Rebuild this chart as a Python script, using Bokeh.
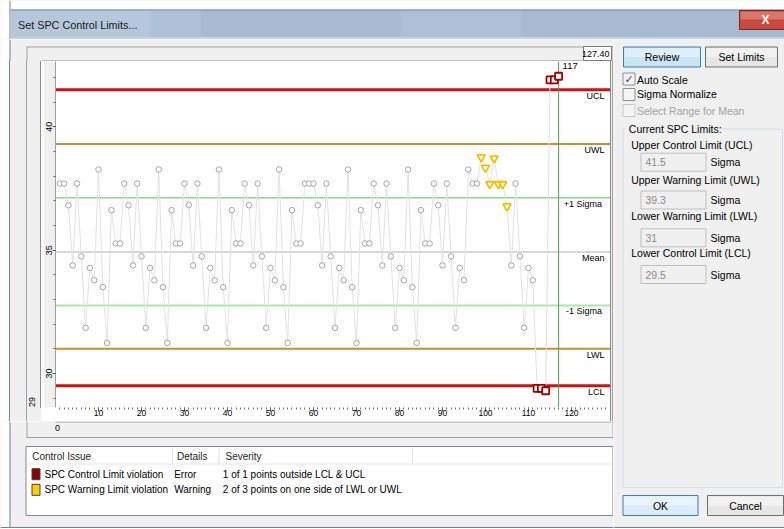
import math
from bokeh.plotting import figure
from bokeh.layouts import column, row
from bokeh.models import Range1d, FixedTicker, Label, Span, ColumnDataSource, Div
from bokeh.core.properties import value
from bokeh.embed import file_html
from bokeh.resources import INLINE

# ---------------- data ----------------
sample_index = list(range(1, 118))
measurements = [
    37.70, 37.70, 36.82, 34.38, 37.70, 34.75, 31.85, 34.28, 33.78, 38.27, 33.50, 31.24, 36.62, 35.27,
    35.27, 37.70, 36.82, 34.38, 37.70, 34.75, 31.85, 34.28, 33.78, 38.27, 33.50, 31.24, 36.62, 35.27,
    35.27, 37.70, 36.82, 34.38, 37.70, 34.75, 31.85, 34.28, 33.78, 38.27, 33.50, 31.24, 36.62, 35.27,
    35.27, 37.70, 36.82, 34.38, 37.70, 34.75, 31.85, 34.28, 33.78, 38.27, 33.50, 31.24, 36.62, 35.27,
    35.27, 37.70, 37.70, 37.70, 36.82, 34.38, 37.70, 34.75, 31.85, 34.28, 33.78, 38.27, 33.50, 31.24,
    36.62, 35.27, 35.27, 37.70, 36.82, 34.38, 37.70, 34.75, 31.85, 34.28, 33.78, 38.27, 33.50, 31.24,
    36.62, 35.27, 35.27, 37.70, 36.82, 34.38, 37.70, 34.75, 31.85, 34.28, 33.78, 38.27, 37.70, 37.70,
    38.77, 38.34, 37.68, 38.72, 37.68, 37.68, 36.78,
    34.38, 37.70, 34.75, 31.85, 34.28, 33.78,
    29.40, 29.40, 29.30, 41.90, 41.90, 42.05,
]
warning_index = [99, 100, 101, 102, 103, 104, 105]
control_index = [112, 113, 114, 115, 116, 117]

limit_names = ["UCL", "UWL", "+1  Sigma", "Mean", "-1  Sigma", "LWL", "LCL"]
limit_values = [41.5, 39.3, 37.12, 34.93, 32.76, 31.0, 29.5]
cursor_index = 117

x_ticks = [10, 20, 30, 40, 50, 60, 70, 80, 90, 100, 110, 120]
x_minor = list(range(1, 130))
y_ticks = [30, 35, 40]
y_minor = list(range(29, 43))
x_range_label = "127.40"
x_start_label = "0"
y_start_label = "29"

issue_names = ["SPC Control Limit violation", "SPC Warning Limit violation"]
issue_details = ["Error", "Warning"]
issue_severity = ["1 of 1 points outside LCL & UCL", "2 of 3 points on one side of LWL or UWL"]
table_headers = ["Control Issue", "Details", "Severity"]

panel_labels = ["Upper Control Limit (UCL)", "Upper Warning Limit (UWL)",
                "Lower Warning Limit (LWL)", "Lower Control Limit (LCL)"]
panel_values = ["41.5", "39.3", "31", "29.5"]

FONT = "Liberation Sans"
BG = "#f0f0f0"
FRAME = "#6f8098"


# ---------------- helpers for the dialog pieces (pixel-space figures) ----------------
def deco(X0, X1, Y0, Y1, bg=BG):
    f = figure(width=X1 - X0, height=Y1 - Y0, x_range=Range1d(X0, X1), y_range=Range1d(Y1, Y0),
               output_backend="svg", toolbar_location=None, title=None,
               x_axis_location=None, y_axis_location=None,
               min_border=0, min_border_left=0, min_border_right=0, min_border_top=0, min_border_bottom=0)
    f.grid.visible = False
    f.outline_line_color = None
    f.background_fill_color = bg
    f.border_fill_color = bg
    return f


def box(f, X0, Y0, X1, Y1, fill=None, line=None, lw=1):
    f.quad(left=[X0], right=[X1], top=[Y0], bottom=[Y1], fill_color=fill,
           line_color=line, line_width=lw)


def t(f, X, Y, s, size="10px", color="#000000", align="left", font=FONT, style="normal", angle=0.0):
    f.text(x=[X], y=[Y], text=[s], text_font=value(font), text_font_size=value(size),
           text_color=color, text_align=align, text_baseline="middle",
           text_font_style=style, angle=angle)


def window_edge(f, Y0, Y1):
    box(f, 0, Y0, 9, Y1, fill="white")
    box(f, 9, Y0, 10, Y1, fill=FRAME)


def strip_div(width, height, parts, extra=""):
    inner = "".join(
        f'<div style="position:absolute;left:{l}px;top:{tp}px;width:{w}px;height:{h}px;background:{c};"></div>'
        for (l, tp, w, h, c) in parts)
    html = (f'<div style="position:relative;width:{width}px;height:{height}px;overflow:hidden;'
            f'background:{BG};">{inner}{extra}</div>')
    return Div(text=html, width=width, height=height, margin=(0, 0, 0, 0))


# ---------------- title bar ----------------
T = deco(0, 784, 0, 39)
box(T, 0, 0, 784, 9, fill="white")
window_edge(T, 0, 39)
box(T, 10, 9, 784, 39, fill="#a7bad2")
box(T, 10, 10, 200, 37, fill="#afc1d7")
box(T, 10, 10, 150, 37, fill="#b7c7db")
box(T, 400, 10, 520, 37, fill="#acbfd5")
box(T, 10, 9, 784, 10, fill="#7b8fa8")
box(T, 10, 36.5, 784, 39, fill="#c6d3e3")
t(T, 17.5, 24, "Set SPC Control Limits...", size="10.8px", color="#1a1a1a")
box(T, 739, 10, 790, 29, fill="#c8493d", line="#7d2b22")
box(T, 740, 11, 790, 19, fill="#d8776b")
t(T, 765, 19.5, "X", size="12px", color="white", align="center", style="bold")

# ---------------- area above the chart frame ----------------
A = deco(0, 613, 39, 61)
window_edge(A, 39, 61)
box(A, 26, 46, 612.5, 47, fill="#a0a0a0")
box(A, 26, 46, 27, 61, fill="#a0a0a0")
box(A, 612, 46, 613, 61, fill="#a0a0a0")
box(A, 41, 60, 610, 61, fill="#8c8c8c")
box(A, 583, 46, 611, 60, fill="white", line="#7a7a7a")
t(A, 609, 53.5, x_range_label, size="9px", align="right")

# ---------------- left of chart (HTML strip) ----------------
label29 = (f'<div style="position:absolute;left:31.7px;top:341px;transform:translate(-50%,-50%) rotate(-90deg);'
           f'font-family:\'{FONT}\';font-size:9px;line-height:1;color:#000;white-space:nowrap;">{y_start_label}</div>')
L = strip_div(41, 360, [(0, 0, 9, 360, "#ffffff"), (9, 0, 1, 360, FRAME), (26, 0, 1, 360, "#a0a0a0"),
                        (40, 0, 1, 347, "#8c8c8c")], extra=label29)

# ---------------- right of chart (HTML strip) ----------------
Rr = strip_div(3, 360, [(0, 0, 1, 360, "#8c8c8c"), (2, 0, 1, 360, "#a0a0a0")])

# ---------------- below chart: table ----------------
B = deco(0, 613, 421, 529)
window_edge(B, 421, 529)
box(B, 0, 526.5, 613, 527.5, fill=FRAME)
box(B, 0, 527.5, 613, 529, fill="white")
box(B, 55, 421, 611, 422, fill="#a0a0a0")
box(B, 26, 421, 27, 437, fill="#a0a0a0")
box(B, 612, 421, 613, 437, fill="#a0a0a0")
box(B, 26, 436.5, 613, 437.5, fill="#a0a0a0")
t(B, 57, 427.5, x_start_label, size="9px", align="center")
box(B, 25.5, 446, 612.5, 515, fill="white", line="#828790")
box(B, 26, 463, 612, 464, fill="#e5e5e5")
for Xs in (171.5, 218, 411.5):
    box(B, Xs, 447, Xs + 1, 463, fill="#e3e3e3")
for Xh, h in zip((31.7, 176.5, 225), table_headers):
    t(B, Xh, 455.5, h, size="10px", color="#1e1e1e")
row_y = [473.7, 489.3]
sw_fill = ["#8b0000", "#ffcc00"]
for i in range(2):
    box(B, 31.5, row_y[i] - 5.5, 39.5, row_y[i] + 5.5, fill=sw_fill[i], line="#404040")
    t(B, 44, row_y[i], issue_names[i], size="10px")
    t(B, 173.7, row_y[i], issue_details[i], size="10px")
    t(B, 222.3, row_y[i], issue_severity[i], size="10px")

# ---------------- right panel ----------------
R = deco(613, 784, 39, 529)
box(R, 613, 526.5, 784, 527.5, fill=FRAME)
box(R, 613, 527.5, 784, 529, fill="white")
box(R, 623, 46.5, 700, 66.5, fill="#c9e6f7", line="#3c7fb1")
box(R, 624, 47.5, 699, 56.5, fill="#dff0fa")
t(R, 661.5, 56.7, "Review", size="10.5px", align="center")
box(R, 705, 46.5, 777, 66.5, fill="#e6e6e6", line="#707070")
box(R, 706, 47.5, 776, 56.5, fill="#f2f2f2")
t(R, 741, 56.7, "Set Limits", size="10.5px", align="center")

box(R, 622.5, 72.5, 634.5, 84.5, fill="#f4f4f4", line="#8e8f8f")
t(R, 628.5, 78.5, "\u2713", size="11px", color="#24489a", align="center", font="DejaVu Sans", style="bold")
t(R, 636.5, 79, "Auto Scale", size="10.5px")
box(R, 622.5, 88, 634.5, 100, fill="#f4f4f4", line="#8e8f8f")
t(R, 636.5, 93.5, "Sigma Normalize", size="10.5px")
box(R, 622.5, 104, 634.5, 116, fill="#f4f4f4", line="#cacaca")
t(R, 636.5, 110, "Select Range for Mean", size="10.5px", color="#a3a3a3")

box(R, 622.5, 128.5, 782, 487, line="#d5dfe5")
box(R, 626, 122, 717, 135, fill=BG)
t(R, 628.3, 128.3, "Current SPC Limits:", size="10.5px")
lab_y = [144, 179.3, 215.7, 252.7]
box_y = [161.7, 199.5, 237.3, 274]
for i in range(4):
    t(R, 630.7, lab_y[i], panel_labels[i], size="10.5px")
    box(R, 640.5, box_y[i] - 9, 705.5, box_y[i] + 9, fill="#f0f0f0", line="#bfbfbf")
    t(R, 645, box_y[i], panel_values[i], size="10.5px", color="#8a8a8a")
    t(R, 710, box_y[i], "Sigma", size="10.5px")

box(R, 622.5, 495, 697.5, 515, fill="#dcecfa", line="#3c7fb1")
box(R, 623.5, 496, 696.5, 505, fill="#eaf4fc")
t(R, 660, 505, "OK", size="10.5px", align="center")
box(R, 707, 495, 783, 515, fill="#e6e6e6", line="#707070")
box(R, 708, 496, 782, 505, fill="#f2f2f2")
t(R, 745, 505, "Cancel", size="10.5px", align="center")

# ---------------- the chart ----------------
C = figure(width=569, height=360, x_range=Range1d(0, 129.07), y_range=Range1d(28.622, 42.647),
           output_backend="svg", toolbar_location=None, title=None,
           min_border_left=14, min_border_right=0, min_border_top=0, min_border_bottom=14)
C.background_fill_color = "white"
C.border_fill_color = "white"
C.outline_line_color = None
C.xgrid.visible = False
C.ygrid.visible = False

ya = C.yaxis[0]
ya.ticker = FixedTicker(ticks=y_ticks, minor_ticks=y_minor)
ya.major_label_orientation = "vertical"
ya.major_tick_out = 3
ya.major_tick_in = 0
ya.minor_tick_out = 2
ya.minor_tick_in = 0
ya.axis_line_color = "#a0a0a0"
ya.major_tick_line_color = "#404040"
ya.minor_tick_line_color = "#606060"
ya.major_label_standoff = 0
ya.major_label_text_font = FONT
ya.major_label_text_font_size = "9px"
ya.major_label_text_color = "black"
try:
    ya.background_fill_color = BG
except Exception:
    pass

xa = C.xaxis[0]
xa.ticker = FixedTicker(ticks=x_ticks, minor_ticks=x_minor)
xa.major_tick_out = 4
xa.major_tick_in = 0
xa.minor_tick_out = 2
xa.minor_tick_in = 0
xa.axis_line_color = None
xa.major_tick_line_color = "#404040"
xa.minor_tick_line_color = "#707070"
xa.major_label_standoff = -2
xa.major_label_text_font = FONT
xa.major_label_text_font_size = "8.5px"
xa.major_label_text_color = "black"

line_colors = ["#c81414", "#c8902c", "#86d886", "#cacaca", "#a6eaa6", "#c8902c", "#c81414"]
line_widths = [3, 2, 1.5, 1.5, 2, 2, 3]
for name, val, c, w in zip(limit_names, limit_values, line_colors, line_widths):
    C.add_layout(Span(location=val, dimension="width", line_color=c, line_width=w, level="underlay"))
    C.add_layout(Label(x=549, x_units="screen", y=val, y_offset=-6, text=name, text_font=FONT,
                       text_font_size="9px", text_align="right", text_baseline="middle",
                       text_color="black"))

C.add_layout(Span(location=cursor_index, dimension="height", line_color="#3cb043", line_width=1,
                  level="underlay"))
C.add_layout(Label(x=cursor_index, y=42.45, x_offset=4, text=str(cursor_index),
                   text_font=FONT, text_font_size="9.5px", text_baseline="middle", text_color="black"))

C.line(sample_index, measurements, line_color="#e2e2e2", line_width=1)

normal = [(i, v) for i, v in zip(sample_index, measurements) if i not in warning_index and i not in control_index]
warn = [(i, v) for i, v in zip(sample_index, measurements) if i in warning_index]
ctrl = [(i, v) for i, v in zip(sample_index, measurements) if i in control_index]

src_n = ColumnDataSource(dict(x=[a for a, _ in normal], y=[b for _, b in normal]))
src_w = ColumnDataSource(dict(x=[a for a, _ in warn], y=[b for _, b in warn]))
src_c = ColumnDataSource(dict(x=[a for a, _ in ctrl], y=[b for _, b in ctrl]))

C.scatter("x", "y", source=src_n, marker="circle", size=5.5, fill_color="white",
          line_color="#a4a4a4", line_width=1)
C.scatter("x", "y", source=src_w, marker="inverted_triangle", size=8, fill_color="white",
          line_color="#f2c200", line_width=1.8)
C.scatter("x", "y", source=src_c, marker="square", size=7, fill_color="white",
          line_color="#a00000", line_width=1.8)

# ---------------- assemble ----------------
middle = row(L, C, Rr, spacing=0)
left_col = column(A, middle, B, spacing=0)
body = row(left_col, R, spacing=0)
page = column(T, body, spacing=0)

open("out.html", "w").write(file_html(page, INLINE))
